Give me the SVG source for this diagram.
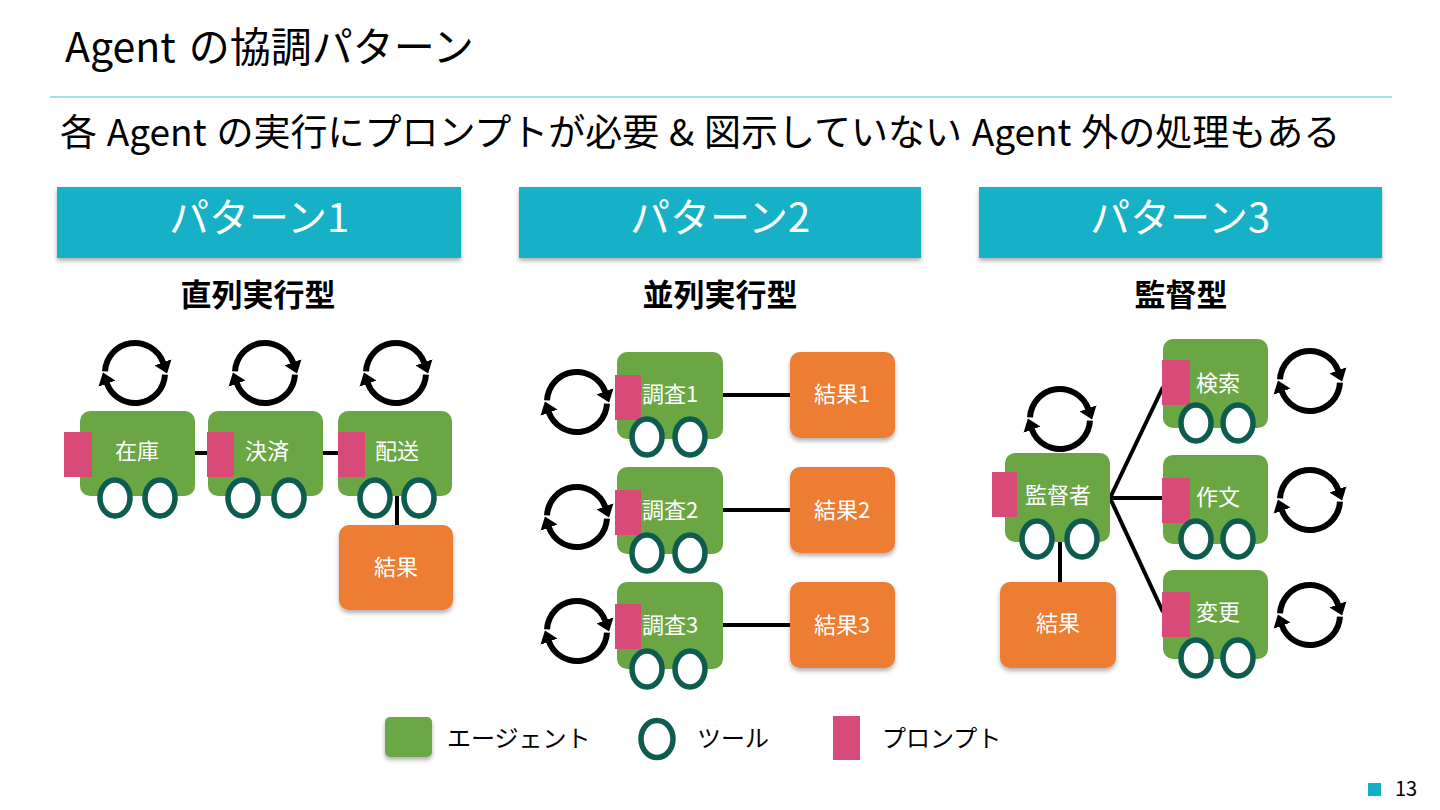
<svg xmlns="http://www.w3.org/2000/svg" width="1440" height="810" viewBox="0 0 1440 810">
<style>
text{font-family:"Noto Sans CJK JP","Noto Sans",sans-serif}
.title{font-size:41px;fill:#000;word-spacing:4px}
.sub{font-size:37px;fill:#000;word-spacing:1.5px}
.hdr{fill:#13b1c7}
.hdrt{font-size:40px;fill:#fff;text-anchor:middle}
.lbl{font-size:31px;font-weight:700;text-anchor:middle;fill:#000}
.agent{fill:#6aa744}
.result{fill:#ed7d31}
.prompt{fill:#d84a78}
.tool{fill:#fff;stroke:#0e5b50;stroke-width:5.5}
.nt{font-size:22px;fill:#fff;text-anchor:middle}
.conn{stroke:#000;stroke-width:4;fill:none}
.leg{font-size:24px;fill:#000}
.cyc{fill:none;stroke:#000;stroke-width:6;marker-end:url(#ah)}
</style>
<defs>
<filter id="sh" x="-10%" y="-10%" width="120%" height="130%"><feDropShadow dx="0" dy="3" stdDeviation="2" flood-color="#000" flood-opacity="0.3"/></filter>
<marker id="ah" markerUnits="userSpaceOnUse" viewBox="0 0 12 18" markerWidth="12" markerHeight="18" refX="0.5" refY="9" orient="auto"><path d="M0,0 L12,9 L0,18 z" fill="#000"/></marker>
<g id="cyc"><path class="cyc" d="M-29.96,-1.57 A30,30 0 0 1 28.19,-10.26"/><path class="cyc" d="M29.96,1.57 A30,30 0 0 1 -28.19,10.26"/></g>
</defs>
<rect width="1440" height="810" fill="#fff"/>

<g id="header">
<text class="title" x="65" y="62">Agent の協調パターン</text>
<line x1="50" y1="97" x2="1392" y2="97" stroke="#8bd3dc" stroke-width="1.5"/>
<text class="sub" x="60" y="146">各 Agent の実行にプロンプトが必要 &amp; 図示していない Agent 外の処理もある</text>
</g>

<g id="pattern-headers">
<rect class="hdr" x="57" y="187" width="404" height="71" filter="url(#sh)"/>
<text class="hdrt" x="259" y="232">パターン1</text>
<rect class="hdr" x="519" y="187" width="402" height="71" filter="url(#sh)"/>
<text class="hdrt" x="720" y="232">パターン2</text>
<rect class="hdr" x="979" y="187" width="403" height="71" filter="url(#sh)"/>
<text class="hdrt" x="1180" y="232">パターン3</text>
<text class="lbl" x="258" y="306">直列実行型</text>
<text class="lbl" x="720" y="306">並列実行型</text>
<text class="lbl" x="1181" y="306">監督型</text>
</g>

<g id="connectors">
<line class="conn" x1="195" y1="453" x2="208" y2="453"/>
<line class="conn" x1="323" y1="453" x2="338" y2="453"/>
<line class="conn" x1="397" y1="490" x2="397" y2="525"/>
<line class="conn" x1="723" y1="395" x2="790" y2="395"/>
<line class="conn" x1="723" y1="510" x2="790" y2="510"/>
<line class="conn" x1="723" y1="625" x2="790" y2="625"/>
<line class="conn" x1="1060" y1="540" x2="1060" y2="583"/>
<line class="conn" x1="1110" y1="498" x2="1163" y2="387"/>
<line class="conn" x1="1110" y1="498" x2="1163" y2="498"/>
<line class="conn" x1="1110" y1="498" x2="1163" y2="612"/>
</g>

<!-- Pattern 1 -->
<g id="agent-zaiko">
<use href="#cyc" x="135" y="373"/>
<rect class="agent" x="80" y="411" width="115" height="85" rx="10"/>
<rect class="prompt" x="64" y="432" width="28" height="45"/>
<text class="nt" x="137" y="459">在庫</text>
<ellipse class="tool" cx="115" cy="498" rx="15" ry="18"/>
<ellipse class="tool" cx="160" cy="498" rx="15" ry="18"/>
</g>
<g id="agent-kessai">
<use href="#cyc" x="265" y="373"/>
<rect class="agent" x="208" y="411" width="115" height="85" rx="10"/>
<rect class="prompt" x="207" y="432" width="27" height="45"/>
<text class="nt" x="267" y="459">決済</text>
<ellipse class="tool" cx="243" cy="498" rx="15" ry="18"/>
<ellipse class="tool" cx="289" cy="498" rx="15" ry="18"/>
</g>
<g id="agent-haisou">
<use href="#cyc" x="396" y="373"/>
<rect class="agent" x="338" y="411" width="114" height="85" rx="10"/>
<rect class="prompt" x="338" y="432" width="27" height="45"/>
<text class="nt" x="397" y="459">配送</text>
<ellipse class="tool" cx="375" cy="498" rx="15" ry="18"/>
<ellipse class="tool" cx="419" cy="498" rx="15" ry="18"/>
</g>
<g id="result-p1">
<rect class="result" x="339" y="525" width="114" height="85" rx="10" filter="url(#sh)"/>
<text class="nt" x="396" y="575">結果</text>
</g>

<!-- Pattern 2 -->
<g id="agent-chousa1">
<use href="#cyc" x="577" y="402"/>
<rect class="agent" x="617" y="352" width="106" height="87" rx="10"/>
<rect class="prompt" x="615" y="375" width="26" height="45"/>
<text class="nt" x="670" y="402">調査1</text>
<ellipse class="tool" cx="647" cy="437" rx="15" ry="18"/>
<ellipse class="tool" cx="690" cy="437" rx="15" ry="18"/>
</g>
<g id="result-1">
<rect class="result" x="790" y="352" width="105" height="86" rx="10" filter="url(#sh)"/>
<text class="nt" x="842" y="402">結果1</text>
</g>
<g id="agent-chousa2">
<use href="#cyc" x="577" y="517"/>
<rect class="agent" x="617" y="467" width="106" height="87" rx="10"/>
<rect class="prompt" x="615" y="490" width="26" height="45"/>
<text class="nt" x="670" y="518">調査2</text>
<ellipse class="tool" cx="647" cy="553" rx="15" ry="18"/>
<ellipse class="tool" cx="690" cy="553" rx="15" ry="18"/>
</g>
<g id="result-2">
<rect class="result" x="790" y="467" width="105" height="86" rx="10" filter="url(#sh)"/>
<text class="nt" x="842" y="518">結果2</text>
</g>
<g id="agent-chousa3">
<use href="#cyc" x="577" y="631"/>
<rect class="agent" x="617" y="582" width="106" height="87" rx="10"/>
<rect class="prompt" x="615" y="604" width="26" height="45"/>
<text class="nt" x="670" y="633">調査3</text>
<ellipse class="tool" cx="647" cy="669" rx="15" ry="18"/>
<ellipse class="tool" cx="690" cy="669" rx="15" ry="18"/>
</g>
<g id="result-3">
<rect class="result" x="790" y="582" width="105" height="86" rx="10" filter="url(#sh)"/>
<text class="nt" x="842" y="633">結果3</text>
</g>

<!-- Pattern 3 -->
<g id="agent-supervisor">
<use href="#cyc" x="1060" y="419"/>
<rect class="agent" x="1005" y="453" width="105" height="89" rx="10"/>
<rect class="prompt" x="992" y="472" width="25" height="45"/>
<text class="nt" x="1058" y="503">監督者</text>
<ellipse class="tool" cx="1037" cy="539" rx="15" ry="18"/>
<ellipse class="tool" cx="1082" cy="539" rx="15" ry="18"/>
</g>
<g id="result-p3">
<rect class="result" x="1000" y="582" width="116" height="86" rx="10" filter="url(#sh)"/>
<text class="nt" x="1058" y="631">結果</text>
</g>
<g id="agent-kensaku">
<use href="#cyc" x="1310" y="381"/>
<rect class="agent" x="1163" y="339" width="105" height="89" rx="10"/>
<rect class="prompt" x="1162" y="360" width="28" height="45"/>
<text class="nt" x="1218" y="391">検索</text>
<ellipse class="tool" cx="1196" cy="423" rx="15" ry="18"/>
<ellipse class="tool" cx="1238" cy="423" rx="15" ry="18"/>
</g>
<g id="agent-sakubun">
<use href="#cyc" x="1310" y="500"/>
<rect class="agent" x="1163" y="455" width="105" height="89" rx="10"/>
<rect class="prompt" x="1162" y="478" width="28" height="45"/>
<text class="nt" x="1218" y="505">作文</text>
<ellipse class="tool" cx="1196" cy="539" rx="15" ry="18"/>
<ellipse class="tool" cx="1238" cy="539" rx="15" ry="18"/>
</g>
<g id="agent-henkou">
<use href="#cyc" x="1310" y="615"/>
<rect class="agent" x="1163" y="570" width="105" height="89" rx="10"/>
<rect class="prompt" x="1162" y="592" width="28" height="45"/>
<text class="nt" x="1218" y="620">変更</text>
<ellipse class="tool" cx="1196" cy="658" rx="15" ry="18"/>
<ellipse class="tool" cx="1238" cy="658" rx="15" ry="18"/>
</g>

<g id="legend">
<rect class="agent" x="385" y="717" width="47" height="40" rx="5" filter="url(#sh)"/>
<text class="leg" x="447" y="747">エージェント</text>
<ellipse class="tool" cx="657" cy="739" rx="16" ry="18.5"/>
<text class="leg" x="697" y="747">ツール</text>
<rect class="prompt" x="833" y="716" width="27" height="44"/>
<text class="leg" x="882" y="747">プロンプト</text>
</g>

<g id="page-number">
<rect x="1368" y="783" width="13" height="13" fill="#13b1c7"/>
<text x="1395" y="796" style="font-size:20px;fill:#000">13</text>
</g>
</svg>
